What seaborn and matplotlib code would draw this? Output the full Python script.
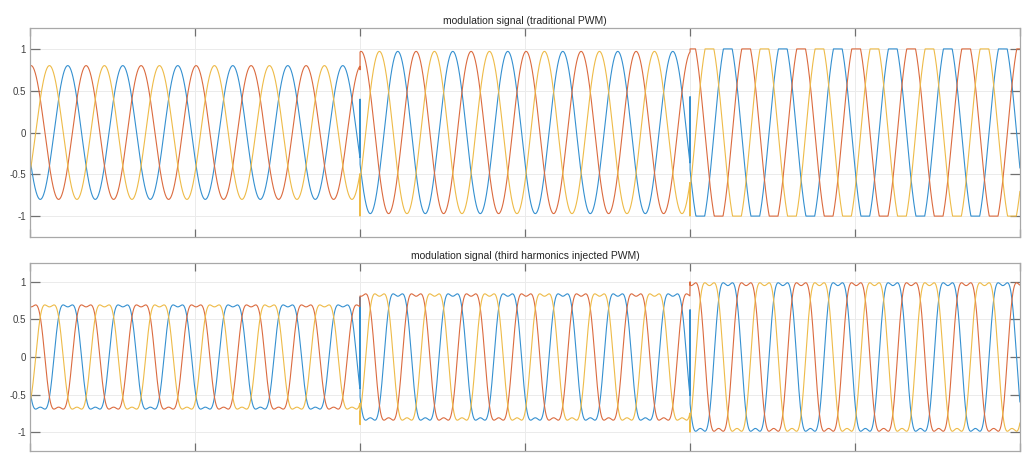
import numpy as np
import pandas as pd
import matplotlib
matplotlib.use("Agg")
import matplotlib.pyplot as plt
import seaborn as sns

# simulation segments (s) and modulation index used in each one
seg_edges = [0.0, 0.2, 0.4, 0.6]
mod_index = [0.80, 0.97, 1.14]
f_out = 30.0            # output frequency (Hz)
phase0_deg = -7.0
dt = 1e-4
phase_names = ["a", "b", "c"]
phase_shift_deg = [120.0, 0.0, -120.0]
line_colors = ["#3590d0", "#db6b3f", "#eebb48"]
third_harm_ratio = 1 / 6
clip_level = 1.0

# one-sample transients at each switching instant (t = 0, 0.2, 0.4), rows = phase a, b, c
glitch_trad = [[-0.40, 0.40, 0.43], [1.00, 0.75, 0.97], [-1.00, -1.00, -1.00]]
glitch_thi = [[-0.70, 0.80, 0.63], [1.00, 0.80, 1.00], [-1.00, -0.90, -1.00]]

x_ticks = [0.0, 0.1, 0.2, 0.3, 0.4, 0.5, 0.6]
y_ticks = [-1, -0.5, 0, 0.5, 1]
y_tick_labels = ["-1", "-0.5", "0", "0.5", "1"]
titles = ["modulation signal (traditional PWM)",
          "modulation signal (third harmonics injected PWM)"]


def build_signals(third_harmonic, glitches):
    rows = []
    for p, name in enumerate(phase_names):
        for k in range(len(mod_index)):
            t = np.arange(seg_edges[k], seg_edges[k + 1], dt)
            theta = 2 * np.pi * f_out * t + np.deg2rad(phase0_deg)
            v = mod_index[k] * np.cos(theta + np.deg2rad(phase_shift_deg[p]))
            if third_harmonic:
                v = v - mod_index[k] * third_harm_ratio * np.cos(3 * theta)
            v = np.clip(v, -clip_level, clip_level)
            rows.append(pd.DataFrame({"t": [seg_edges[k]], "v": [glitches[p][k]], "phase": name}))
            rows.append(pd.DataFrame({"t": t, "v": v, "phase": name}))
    return pd.concat(rows, ignore_index=True)


sns.set_style("whitegrid")
plt.rcParams["font.family"] = ["Liberation Sans", "DejaVu Sans"]

fig = plt.figure(figsize=(10.25, 4.53), dpi=100)
ax1 = fig.add_axes([0.0293, 0.4768, 0.9659, 0.4614])
ax2 = fig.add_axes([0.0293, 0.0044, 0.9659, 0.415])

data_sets = [build_signals(False, glitch_trad), build_signals(True, glitch_thi)]

for ax, df, title in zip([ax1, ax2], data_sets, titles):
    sns.lineplot(data=df, x="t", y="v", hue="phase", palette=line_colors,
                 estimator=None, sort=False, legend=False, linewidth=0.8, ax=ax)
    ax.set_xlim(0, 0.6)
    ax.set_ylim(-1.25, 1.25)
    ax.set_xticks(x_ticks)
    ax.set_xticklabels([])
    ax.set_yticks(y_ticks)
    ax.set_yticklabels(y_tick_labels)
    ax.set_xlabel("")
    ax.set_ylabel("")
    ax.grid(True, color="#ebebeb", linewidth=0.7)
    ax.tick_params(axis="x", direction="in", length=5.5, width=0.9, color="#707070",
                   top=True, bottom=True)
    ax.tick_params(axis="y", direction="in", length=7, width=0.9, color="#707070",
                   left=True, right=True, labelsize=7, labelcolor="#404040", pad=3)
    for s in ax.spines.values():
        s.set_color("#a8a8a8")
        s.set_linewidth(0.9)
    ax.set_title(title, fontsize=7.5, color="#262626", pad=3)

fig.savefig("out.png", dpi=100, facecolor="white")
